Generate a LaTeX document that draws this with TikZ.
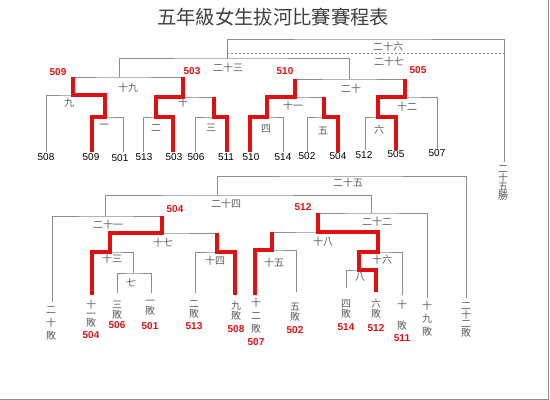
\documentclass[tikz,border=0pt]{standalone}
\usepackage{fontspec}
\setmainfont{Liberation Sans}
\newfontfamily\cjk{Noto Sans CJK TC}
\usepackage{xcolor}
\definecolor{linegray}{HTML}{8C8C8C}
\definecolor{labgray}{HTML}{5A5A5A}
\definecolor{winred}{HTML}{E01010}
\newcommand\stackfont[1]{\cjk\fontsize{7.5}{#1}\selectfont\lineskiplimit=-20pt\relax}

\begin{document}
\begin{tikzpicture}[x=0.75pt, y=-0.75pt,
    bline/.style={linegray, line width=0.7pt},
    win/.style={winred, line width=2.5pt},
    rnd/.style={font=\cjk\fontsize{7.5}{7.5}\selectfont, text=labgray, inner sep=0pt},
    lose/.style={rnd, align=center, font={\stackfont{#1}}},
    lose/.default=7.5,
    team/.style={font=\fontsize{7.5}{9}\selectfont, inner sep=0pt},
    tag/.style={font=\bfseries\fontsize{7.5}{9}\selectfont, text=winred, inner sep=0pt}]
  \useasboundingbox (0,0) rectangle (550,400);
  \draw[linegray] (548.5,0) -- (548.5,399.5) -- (0,399.5);
  \node[font=\cjk\fontsize{14.5}{16}\selectfont, text=black!75] (title) at (273,17) {五年級女生拔河比賽賽程表};

  % upper bracket
  \foreach \t/\x in {508/46, 509/92, 501/123, 513/143, 503/173, 506/195, 511/227, 510/250, 514/283, 502/307, 504/338}
    \coordinate (b\t) at (\x,152);
  \foreach \t/\x in {512/365, 505/396, 507/437}
    \coordinate (b\t) at (\x,150);
  \coordinate (m1) at (105,117);  \coordinate (m2) at (156,117);
  \coordinate (m3) at (214,117);  \coordinate (m4) at (267,117);
  \coordinate (m5) at (324,117);  \coordinate (m6) at (378,117);
  \coordinate (m9) at (73,95);    \coordinate (m10) at (183,97);
  \coordinate (m11) at (295,97);  \coordinate (m12) at (405,97);
  \coordinate (m19) at (119,77);  \coordinate (m20) at (349,79);
  \coordinate (m23) at (227,58);  \coordinate (m26) at (360,39);
  \coordinate (m27) at (227,53);  \coordinate (w25) at (504,162);

  \draw[bline] (b509) |- (m1) -| (b501);
  \draw[bline] (b513) |- (m2) -| (b503);
  \draw[bline] (b506) |- (m3) -| (b511);
  \draw[bline] (b510) |- (m4) -| (b514);
  \draw[bline] (b502) |- (m5) -| (b504);
  \draw[bline] (b512) |- (m6) -| (b505);
  \draw[bline] (b508) |- (m9) -| (m1);
  \draw[bline] (m2) |- (m10) -| (m3);
  \draw[bline] (m4) |- (m11) -| (m5);
  \draw[bline] (m6) |- (m12) -| (b507);
  \draw[bline] (m9) |- (m19) -| (m10);
  \draw[bline] (m11) |- (m20) -| (m12);
  \draw[bline] (m19) |- (m23) -| (m20);
  \draw[bline] (m23) |- (m26) -| (w25);
  \draw[bline, dash pattern=on 1.5pt off 1.5pt] (m27) -- (m27 -| w25);

  \draw[win] (b509) |- (m1) |- (m9) -- (m9 |- m19);
  \draw[win] (b503) |- (m2) |- (m10) -- (m10 |- m19);
  \draw[win] (b511) |- (m3) -- (m3 |- m10);
  \draw[win] (b510) |- (m4) |- (m11) -- (m11 |- m20);
  \draw[win] (b504) |- (m5) -- (m5 |- m11);
  \draw[win] (b505) |- (m6) |- (m12) -- (m12 |- m20);

  \foreach \t/\x/\y in {508/46/157, 509/91/157, 501/120/158, 513/144/157, 503/174/157, 506/196/157, 511/226/157, 510/251/157, 514/283/157, 502/307/156, 504/338/156, 512/364/155, 505/396/154, 507/437/153}
    \node[team] (t\t) at (\x,\y) {\t};
  \node[tag] (p509) at (58,72) {509};
  \node[tag] (p503) at (192,71) {503};
  \node[tag] (p510) at (285,71) {510};
  \node[tag] (p505) at (418,70) {505};

  \node[rnd] (r26) at (388,47) {二十六};
  \node[rnd] (r27) at (389,62) {二十七};
  \node[rnd] (r23) at (228,68) {二十三};
  \node[rnd] (r19) at (128,88) {十九};
  \node[rnd] (r20) at (351,89) {二十};
  \node[rnd] (r9) at (69,103) {九};
  \node[rnd] (r10) at (183,103) {十};
  \node[rnd] (r11) at (293,106) {十一};
  \node[rnd] (r12) at (407,107) {十二};
  \node[rnd] (r1) at (104,126) {一};
  \node[rnd] (r2) at (156,128) {二};
  \node[rnd] (r3) at (211,128) {三};
  \node[rnd] (r4) at (266,129) {四};
  \node[rnd] (r5) at (323,131) {五};
  \node[rnd] (r6) at (379,130) {六};
  \node[lose=6.75] (r25w) at (503,182.5) {二\\十\\五\\勝};

  % lower bracket
  \coordinate (c20) at (52,302);   \coordinate (c504) at (92,295);
  \coordinate (c506) at (117,293); \coordinate (c501) at (151,293);
  \coordinate (c513) at (195,293); \coordinate (c508) at (235,295);
  \coordinate (c507) at (255,295); \coordinate (c502) at (296,292);
  \coordinate (c514) at (346,288); \coordinate (c512) at (376,292);
  \coordinate (c511) at (402,295); \coordinate (c19) at (427,298);
  \coordinate (c22) at (466,298);
  \coordinate (n7) at (133,273);   \coordinate (n13) at (110,252);
  \coordinate (n14) at (217,252);  \coordinate (n17) at (162,233);
  \coordinate (n21) at (105,216);  \coordinate (n15) at (272,250);
  \coordinate (n8) at (359,270);   \coordinate (n16) at (378,252);
  \coordinate (n18) at (318,232);  \coordinate (n22) at (371,213);
  \coordinate (n24) at (217,195);  \coordinate (n25) at (340,176);

  \draw[bline] (c506) |- (n7) -| (c501);
  \draw[bline] (c504) |- (n13) -| (n7);
  \draw[bline] (c513) |- (n14) -| (c508);
  \draw[bline] (n13) |- (n17) -| (n14);
  \draw[bline] (c20) |- (n21) -| (n17);
  \draw[bline] (c507) |- (n15) -| (c502);
  \draw[bline] (c514) |- (n8) -| (c512);
  \draw[bline] (n8) |- (n16) -| (c511);
  \draw[bline] (n15) |- (n18) -| (n16);
  \draw[bline] (n18) |- (n22) -| (c19);
  \draw[bline] (n21) |- (n24) -| (n22);
  \draw[bline] (n24) |- (n25) -| (c22);

  \draw[win] (c504) |- (n13) |- (n17) -- (n17 |- n21);
  \draw[win] (c508) |- (n14) -- (n14 |- n17);
  \draw[win] (c507) |- (n15) -- (n15 |- n18);
  \draw[win] (c512) |- (n8) |- (n16) |- (n18) -- (n18 |- n22);

  \node[tag] (p504) at (175,209) {504};
  \node[tag] (p512) at (303,207) {512};
  \node[rnd] (r25) at (348,183) {二十五};
  \node[rnd] (r24) at (226,204) {二十四};
  \node[rnd] (r21) at (108,225) {二十一};
  \node[rnd] (r22) at (377,222) {二十二};
  \node[rnd] (r17) at (163,243) {十七};
  \node[rnd] (r18) at (323,242) {十八};
  \node[rnd] (r13) at (112,259) {十三};
  \node[rnd] (r14) at (215,261) {十四};
  \node[rnd] (r15) at (274,263) {十五};
  \node[rnd] (r16) at (382,260) {十六};
  \node[rnd] (r7) at (131,283) {七};
  \node[rnd] (r8) at (360,277) {八};

  \node[lose=10] (l20) at (51,323.5) {二\\十\\敗};
  \node[lose=6.75] (l504) at (91,314) {十\\一\\敗};
  \node[lose] (l506) at (117,310) {三\\敗};
  \node[lose] (l501) at (150,308) {一\\敗};
  \node[lose] (l513) at (194,309.5) {二\\敗};
  \node[lose] (l508) at (236,311) {九\\敗};
  \node[lose=9.75] (l507) at (256,316) {十\\二\\敗};
  \node[lose] (l502) at (295,312.5) {五\\敗};
  \node[lose] (l514) at (346,309) {四\\敗};
  \node[lose] (l512) at (376,309) {六\\敗};
  \node[lose=15.75] (l511) at (402,315.5) {十\\敗};
  \node[lose=9.75] (l19) at (427,319) {十\\九\\敗};
  \node[lose=6.75] (l22) at (466,319.5) {二\\十\\二\\敗};
  \foreach \t/\x/\y in {504/91/335, 506/117/325, 501/150/326, 513/194/326, 508/236/329, 507/256/342, 502/295/330, 514/346/327, 512/376/328, 511/402/338}
    \node[tag] (q\t) at (\x,\y) {\t};
\end{tikzpicture}
\end{document}
